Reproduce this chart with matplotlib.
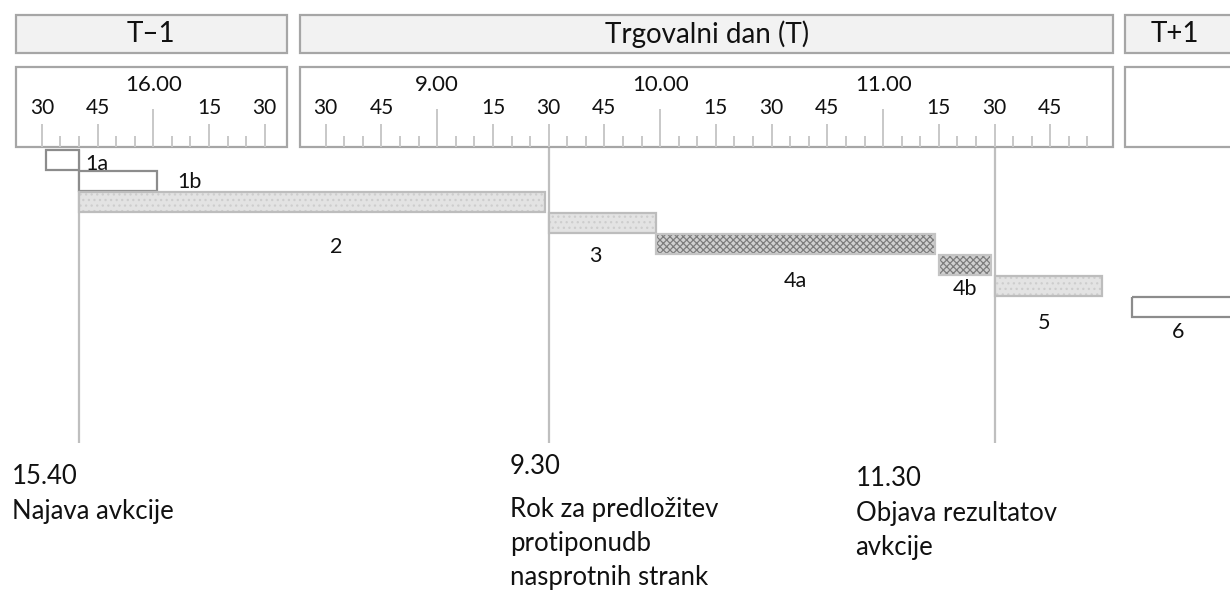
import matplotlib
matplotlib.use('Agg')
import matplotlib.pyplot as plt
from matplotlib.patches import Rectangle

plt.rcParams['font.family'] = ['Lato', 'DejaVu Sans']

# faze avkcije; dan -1 = T-1, 0 = T, 1 = T+1
bar_labels = ['1a', '1b', '2', '3', '4a', '4b', '5', '6']
bar_start = [(-1, '15.31'), (-1, '15.40'), (-1, '15.40'), (0, '9.30'),
             (0, '9.59'), (0, '11.15'), (0, '11.30'), (1, '8.25')]
bar_end = [(-1, '15.40'), (-1, '16.01'), (0, '9.29'), (0, '9.59'),
           (0, '11.14'), (0, '11.29'), (0, '11.59'), (1, '9.00')]
bar_row = [0, 1, 2, 3, 4, 5, 6, 7]
bar_kind = ['empty', 'empty', 'light', 'light', 'dark', 'dark', 'light', 'empty']

day_names = ['T\u20131', 'Trgovalni dan (T)', 'T+1']
day_from = ['15.23', '8.23', '8.23']
day_to = ['16.36', '12.02', '10.30']
ruler_from = ['15.30', '8.30', None]
ruler_to = ['16.30', '11.55', None]

milestones = [(-1, '15.40'), (0, '9.30'), (0, '11.30')]
milestone_text = [
    ['15.40', 'Najava avkcije'],
    ['9.30', 'Rok za predložitev', 'protiponudb', 'nasprotnih strank'],
    ['11.30', 'Objava rezultatov', 'avkcije'],
]

# skala: minute na skupni časovnici
PX = 3.716
day_origin = {-1: (15 * 60 + 30, 0.0), 0: (8 * 60 + 30, 76.4), 1: (8 * 60 + 30, 298.5)}


def mins(hm):
    h, m = hm.split('.')
    return int(h) * 60 + int(m)


def tl(day, hm):
    base, off = day_origin[day]
    return mins(hm) - base + off


fig = plt.figure(figsize=(12.3, 5.9), dpi=100)
ax = fig.add_axes([0, 0, 1, 1])
ax.set_xlim(-41.8 / PX, (1230 - 41.8) / PX)
ax.set_ylim(590, 0)
ax.axis('off')

edge = '#a6a6a6'
tick_c = '#c8c8c8'
txt = '#111111'

# glave dni in ravnila
for d, name in zip([-1, 0, 1], day_names):
    i = d + 1
    x0, x1 = tl(d, day_from[i]), tl(d, day_to[i])
    ax.add_patch(Rectangle((x0, 15), x1 - x0, 38, facecolor='#f2f2f2',
                           edgecolor=edge, lw=1.6, zorder=2))
    ax.text((x0 + x1) / 2 if d < 1 else x0 + 50 / PX, 34, name, ha='center', va='center',
            fontsize=20, color=txt, zorder=3)
    ax.add_patch(Rectangle((x0, 67), x1 - x0, 80, facecolor='white',
                           edgecolor=edge, lw=1.6, zorder=2))
    if ruler_from[i] is None:
        continue
    for t in range(mins(ruler_from[i]), mins(ruler_to[i]) + 1, 5):
        x = tl(d, '%d.%02d' % (t // 60, t % 60))
        if t % 60 == 0:
            ax.vlines(x, 109, 147, color=tick_c, lw=1.4, zorder=3)
            ax.text(x, 85, '%d.00' % (t // 60), ha='center', va='center',
                    fontsize=16, color=txt, zorder=3)
        elif t % 15 == 0:
            ax.vlines(x, 124, 147, color=tick_c, lw=1.4, zorder=3)
            ax.text(x, 108, '%02d' % (t % 60), ha='center', va='center',
                    fontsize=15, color=txt, zorder=3)
        else:
            ax.vlines(x, 136, 147, color=tick_c, lw=1.4, zorder=3)

# navpične črte mejnikov
line_top = [150, 147, 147]
for (d, hm), y0 in zip(milestones, line_top):
    ax.vlines(tl(d, hm), y0, 443, color='#bfbfbf', lw=1.6, zorder=1)

# stolpci
styles = {
    'empty': dict(face='white', hatch=None, hcol=None, edge='#8c8c8c'),
    'light': dict(face='#e3e3e3', hatch='...', hcol='#cdcdcd', edge='#bdbdbd'),
    'dark': dict(face='#d0d0d0', hatch='xxxxx', hcol='#7d7d7d', edge='#c4c4c4'),
}
label_off = [(6, 4), (20, 1), (24, 35), (-7, 23), (0, 27), (0, 14), (-4, 27), (-19, 15)]
plt.rcParams['hatch.linewidth'] = 0.9
for lab, s, e, r, k, (dx, dy) in zip(bar_labels, bar_start, bar_end, bar_row,
                                     bar_kind, label_off):
    st = styles[k]
    x0, x1 = tl(*s), tl(*e)
    top = 150 + 21 * r
    ax.add_patch(Rectangle((x0, top), x1 - x0, 20, facecolor=st['face'],
                           edgecolor=st['hcol'] or st['face'], lw=0,
                           hatch=st['hatch'], zorder=4))
    ax.add_patch(Rectangle((x0, top), x1 - x0, 20, fill=False,
                           edgecolor=st['edge'], lw=1.6, zorder=5))
    if lab in ('1a', '1b'):
        ax.text(x1 + dx / PX, top + 10 + dy, lab, ha='left', va='center',
                fontsize=15.5, color=txt, zorder=6)
    else:
        ax.text((x0 + x1) / 2 + dx / PX, top + 20 + dy, lab, ha='center',
                va='center', fontsize=15.5, color=txt, zorder=6)

# opisi mejnikov
text_dx = [-67, -39, -139]
text_y = [(477, 511), (466, 510), (478, 513)]
for (d, hm), lines, dx, (y0, y1) in zip(milestones, milestone_text, text_dx, text_y):
    x = tl(d, hm) + dx / PX
    ax.text(x, y0, lines[0], ha='left', va='center', fontsize=18.5, color=txt)
    for j, line in enumerate(lines[1:]):
        ax.text(x, y1 + 34 * j, line, ha='left', va='center', fontsize=18.5, color=txt)

fig.savefig('out.png', dpi=100)
